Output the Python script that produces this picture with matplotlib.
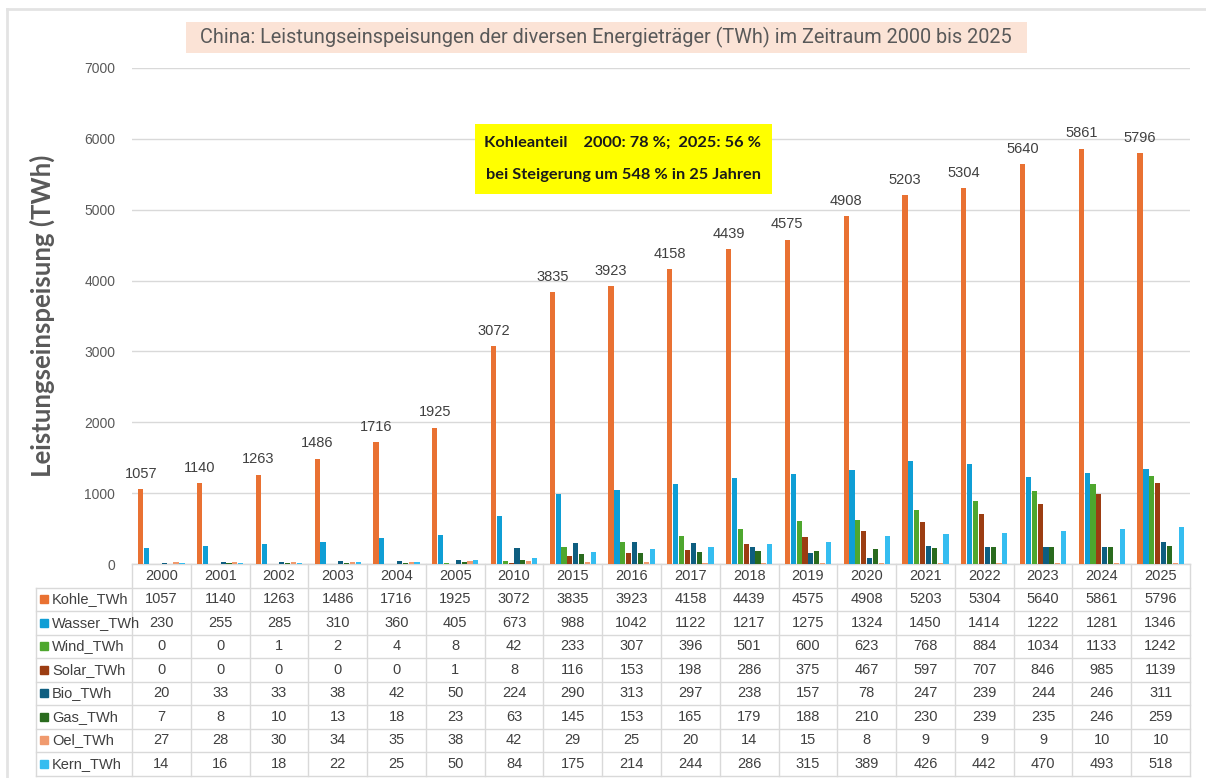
import matplotlib
matplotlib.use("Agg")
import matplotlib.pyplot as plt
from matplotlib.patches import Rectangle
from matplotlib.lines import Line2D
from matplotlib.transforms import blended_transform_factory
import numpy as np

years = ['2000', '2001', '2002', '2003', '2004', '2005', '2010', '2015', '2016',
         '2017', '2018', '2019', '2020', '2021', '2022', '2023', '2024', '2025']

series_names = ['Kohle_TWh', 'Wasser_TWh', 'Wind_TWh', 'Solar_TWh',
                'Bio_TWh', 'Gas_TWh', 'Oel_TWh', 'Kern_TWh']

kohle = [1057, 1140, 1263, 1486, 1716, 1925, 3072, 3835, 3923, 4158, 4439, 4575, 4908, 5203, 5304, 5640, 5861, 5796]
wasser = [230, 255, 285, 310, 360, 405, 673, 988, 1042, 1122, 1217, 1275, 1324, 1450, 1414, 1222, 1281, 1346]
wind = [0, 0, 1, 2, 4, 8, 42, 233, 307, 396, 501, 600, 623, 768, 884, 1034, 1133, 1242]
solar = [0, 0, 0, 0, 0, 1, 8, 116, 153, 198, 286, 375, 467, 597, 707, 846, 985, 1139]
bio = [20, 33, 33, 38, 42, 50, 224, 290, 313, 297, 238, 157, 78, 247, 239, 244, 246, 311]
gas = [7, 8, 10, 13, 18, 23, 63, 145, 153, 165, 179, 188, 210, 230, 239, 235, 246, 259]
oel = [27, 28, 30, 34, 35, 38, 42, 29, 25, 20, 14, 15, 8, 9, 9, 9, 10, 10]
kern = [14, 16, 18, 22, 25, 50, 84, 175, 214, 244, 286, 315, 389, 426, 442, 470, 493, 518]

series = [kohle, wasser, wind, solar, bio, gas, oel, kern]
colors = ['#E97132', '#0F9ED5', '#4EA72E', '#9C3D12',
          '#0E5E80', '#2A6B1E', '#F09A6E', '#35BDF0']

W, H = 1206, 778
fig = plt.figure(figsize=(W / 100, H / 100), dpi=100)
fig.patch.set_facecolor('white')

# axes in pixel geometry
ax_l, ax_r, ax_t, ax_b = 132, 1190, 68, 564
ax = fig.add_axes([ax_l / W, 1 - ax_b / H, (ax_r - ax_l) / W, (ax_b - ax_t) / H])

x = np.arange(len(years))
step = 0.1
bw = 0.088
for i, (vals, col) in enumerate(zip(series, colors)):
    ax.bar(x + (i - 3.5) * step, vals, bw, color=col, zorder=3)

# data labels on coal bars
for xi, v in zip(x, kohle):
    ax.annotate(str(v), (xi - 3.5 * step, v), xytext=(0, 6), textcoords='offset points',
                ha='center', va='bottom', fontsize=10.5, color='#404040',
                family='Liberation Sans')

ax.set_xlim(-0.5, len(years) - 0.5)
ax.set_ylim(0, 7000)
ax.set_yticks(range(0, 7001, 1000))
ax.tick_params(axis='y', length=0, pad=12, labelsize=10, labelcolor='#595959')
for lab in ax.get_yticklabels():
    lab.set_family('Liberation Sans')
ax.set_xticks([])
ax.grid(axis='y', color='#D9D9D9', linewidth=1, zorder=0)
for s in ['top', 'right', 'left']:
    ax.spines[s].set_visible(False)
ax.spines['bottom'].set_color('#D9D9D9')
ax.set_ylabel('Leistungseinspeisung (TWh)', fontsize=18.5, fontweight='bold',
              color='#595959', family='Lato')
ax.yaxis.set_label_coords(-0.073, 0.5)

# data table under the axes
tr = blended_transform_factory(ax.transData, ax.transAxes)
row_h = 23.5 / (ax_b - ax_t)
lab_left = -0.5 - (ax_l - 36) / ((ax_r - ax_l) / len(years))
n_rows = len(series_names) + 1
grid_col = '#D9D9D9'

for r in range(n_rows + 1):
    y = -r * row_h
    x0 = -0.5 if r == 0 else lab_left
    ax.plot([x0, len(years) - 0.5], [y, y], color=grid_col, lw=1, transform=tr, clip_on=False)
for c in range(len(years) + 1):
    ax.plot([c - 0.5, c - 0.5], [0, -n_rows * row_h], color=grid_col, lw=1,
            transform=tr, clip_on=False)
ax.plot([lab_left, lab_left], [-row_h, -n_rows * row_h], color=grid_col, lw=1,
        transform=tr, clip_on=False)

for c, yr in enumerate(years):
    ax.text(c, -0.5 * row_h, yr, transform=tr, ha='center', va='center',
            fontsize=10.5, color='#404040', family='Liberation Sans')

for r, (name, vals, col) in enumerate(zip(series_names, series, colors)):
    yc = -(r + 1.5) * row_h
    ax.plot([lab_left + 0.13], [yc], marker='s', markersize=5.5, color=col,
            transform=tr, clip_on=False)
    ax.text(lab_left + 0.27, yc, name, transform=tr, ha='left', va='center',
            fontsize=10.5, color='#404040', family='Liberation Sans')
    for c, v in enumerate(vals):
        ax.text(c, yc, str(v), transform=tr, ha='center', va='center',
                fontsize=10.5, color='#404040', family='Liberation Sans')

# title with salmon background
fig.patches.append(Rectangle((186 / W, 1 - 53 / H), (1027 - 186) / W, 31 / H,
                             transform=fig.transFigure, facecolor='#FBE3D6',
                             edgecolor='none', zorder=0))
fig.text(606 / W, 1 - 37.5 / H,
         'China: Leistungseinspeisungen der diversen Energieträger (TWh) im Zeitraum 2000 bis 2025',
         ha='center', va='center', fontsize=14.3, color='#595959',
         family=['Liberation Sans Narrow', 'Roboto', 'DejaVu Sans'])

# yellow annotation box
fig.patches.append(Rectangle((475 / W, 1 - 194 / H), (772 - 475) / W, 70 / H,
                             transform=fig.transFigure, facecolor='#FFFF00',
                             edgecolor='none', zorder=5))
fig.text(623 / W, 1 - 143 / H, 'Kohleanteil    2000: 78 %;  2025: 56 %',
         ha='center', va='center', fontsize=11.8, fontweight='bold', color='#1A1A1A',
         family='Lato', zorder=6)
fig.text(623 / W, 1 - 175 / H, 'bei Steigerung um 548 % in 25 Jahren',
         ha='center', va='center', fontsize=11.8, fontweight='bold', color='#1A1A1A',
         family='Lato', zorder=6)

# outer frame lines
fig.lines.append(Line2D([7 / W, 1], [1 - 9 / H, 1 - 9 / H], transform=fig.transFigure,
                        color='#E3E3E3', lw=2))
fig.lines.append(Line2D([7 / W, 7 / W], [0, 1 - 9 / H], transform=fig.transFigure,
                        color='#E3E3E3', lw=2))

fig.savefig('out.png', dpi=100)
